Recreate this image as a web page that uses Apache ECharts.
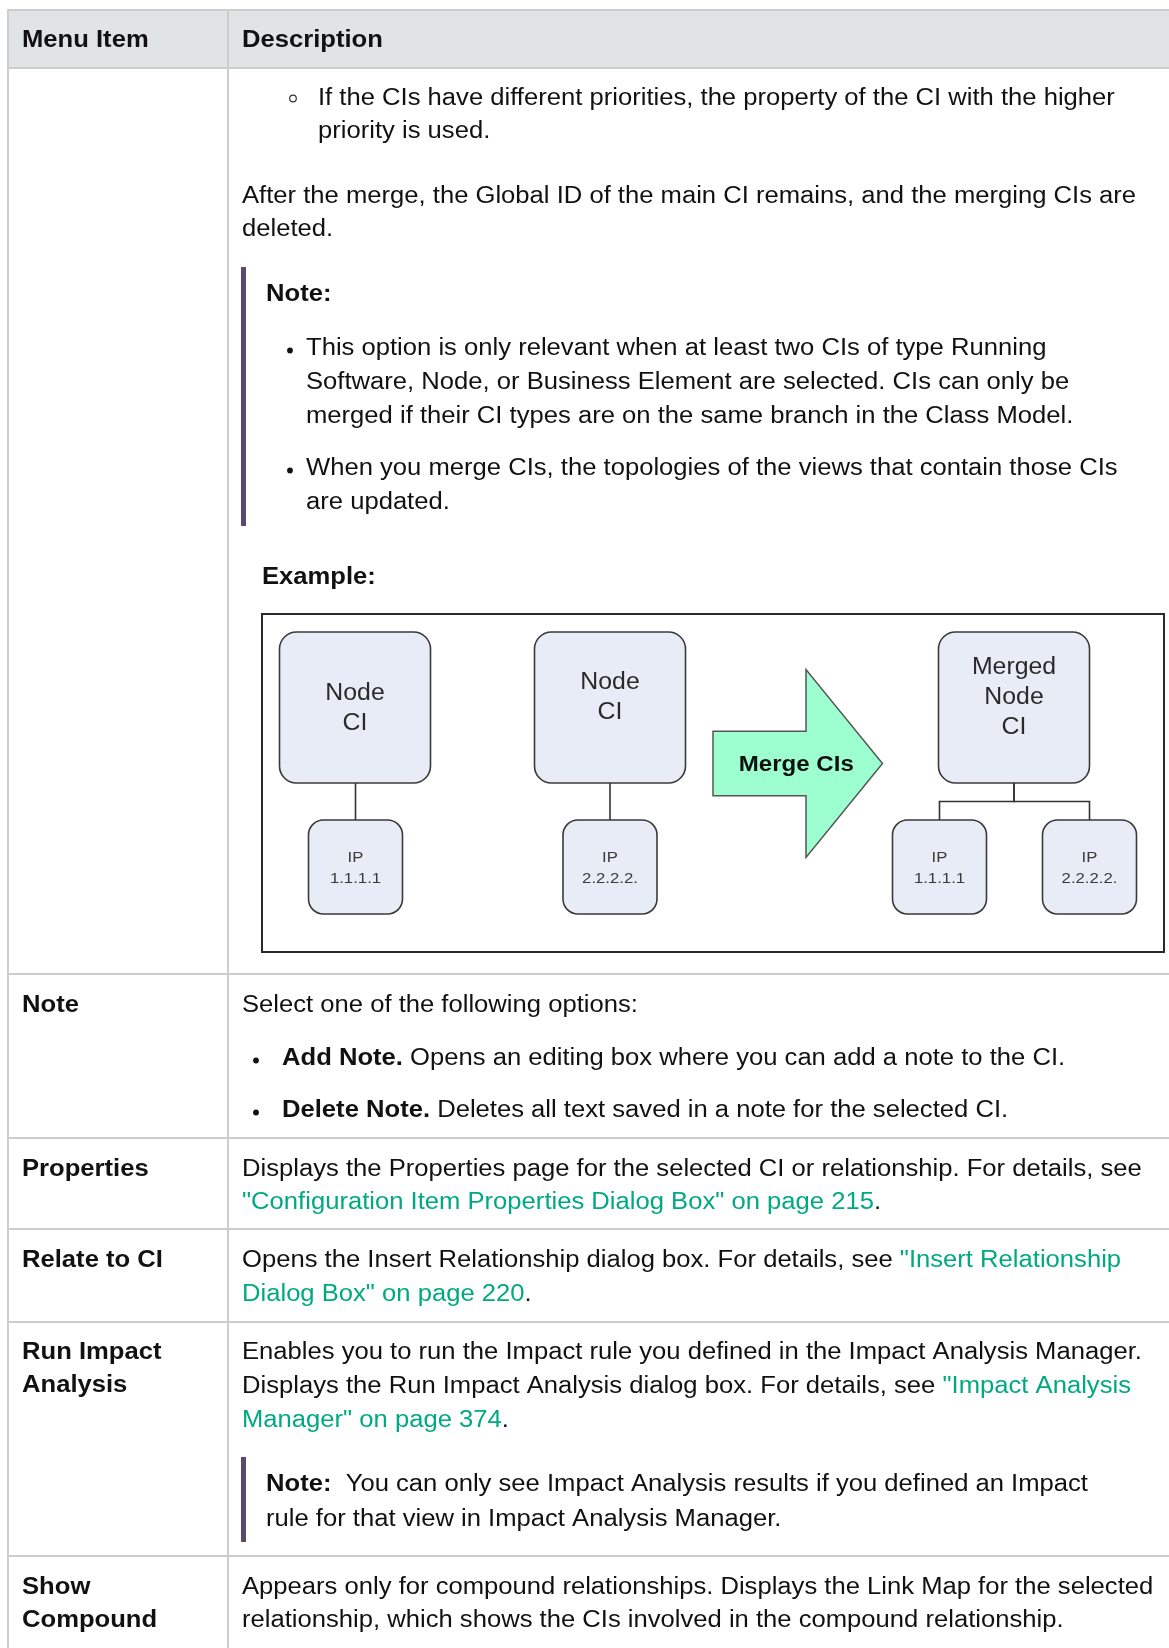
<!DOCTYPE html>
<html>
<head>
<meta charset="utf-8">
<script src="https://cdn.jsdelivr.net/npm/echarts@6/dist/echarts.min.js"></script>
<style>html,body{margin:0;padding:0;background:#fff}#c{width:1169px;height:1648px}</style>
</head>
<body>
<div id="c"></div>
<script>
// ---------- table content ----------
const headers = ['Menu Item', 'Description'];
const menuItems = [[], ['Note'], ['Properties'], ['Relate to CI'], ['Run Impact', 'Analysis'], ['Show', 'Compound']];
const mergeSubBullet = ['If the CIs have different priorities, the property of the CI with the higher', 'priority is used.'];
const mergeAfter = ['After the merge, the Global ID of the main CI remains, and the merging CIs are', 'deleted.'];
const mergeNoteTitle = 'Note:';
const mergeNoteBullets = [
  ['This option is only relevant when at least two CIs of type Running', 'Software, Node, or Business Element are selected. CIs can only be', 'merged if their CI types are on the same branch in the Class Model.'],
  ['When you merge CIs, the topologies of the views that contain those CIs', 'are updated.']
];
const exampleTitle = 'Example:';
const noteIntro = 'Select one of the following options:';
const noteBullets = [
  ['Add Note.', ' Opens an editing box where you can add a note to the CI.'],
  ['Delete Note.', ' Deletes all text saved in a note for the selected CI.']
];
const propertiesLines = ['Displays the Properties page for the selected CI or relationship. For details, see', '{l|"Configuration Item Properties Dialog Box" on page 215}.'];
const relateLines = ['Opens the Insert Relationship dialog box. For details, see {l|"Insert Relationship}', '{l|Dialog Box" on page 220}.'];
const impactLines = ['Enables you to run the Impact rule you defined in the Impact Analysis Manager.', 'Displays the Run Impact Analysis dialog box. For details, see {l|"Impact Analysis}', '{l|Manager" on page 374}.'];
const impactNote = ['{b|Note:}  You can only see Impact Analysis results if you defined an Impact', 'rule for that view in Impact Analysis Manager.'];
const compoundLines = ['Appears only for compound relationships. Displays the Link Map for the selected', 'relationship, which shows the CIs involved in the compound relationship.'];

// ---------- diagram content (diagram units) ----------
const nodeLabels = ['Node\nCI', 'IP\n1.1.1.1', 'Node\nCI', 'IP\n2.2.2.2.', 'Merged\nNode\nCI', 'IP\n1.1.1.1', 'IP\n2.2.2.2.'];
const nodeKinds = ['ci', 'ip', 'ci', 'ip', 'ci', 'ip', 'ip'];
const nodeX = [93, 93.5, 348, 348, 752, 677.5, 827.5];
const nodeY = [93.5, 253, 93.5, 253, 93.5, 253, 253];
const nodeLabelDy = [0, 0, -11, 0, -11, 0, 0];
const links = [[0, 1], [2, 3], [4, 5], [4, 6]];
const arrowLabel = 'Merge CIs';
const arrowGeom = [451, 544, 620.5, 149.5, 32.25, 94]; // tail x, neck x, tip x, mid y, shaft half-height, head half-height

// ---------- styling ----------
const FF = '"Liberation Sans", Arial, Helvetica, sans-serif';
const FS = 23.5, SX = 1.09, DY = 2.5;
const FONT = FS + 'px ' + FF, BFONT = 'bold ' + FS + 'px ' + FF;
const TXT = '#111', LINK = '#01a982', BORDER = '#cdcdcd', BAR = '#5c4a6e';
const RICH = { b: { font: BFONT, fill: TXT }, l: { fill: LINK } };

function T(x, y, text, bold) {
  return { type: 'text', x: x, y: y + DY, scaleX: SX, silent: true, z: 10,
    style: { x: 0, y: 0, text: text, font: bold ? BFONT : FONT, fill: TXT, align: 'left', verticalAlign: 'middle', rich: RICH } };
}
function L(x1, y1, x2, y2) {
  return { type: 'line', silent: true, z: 5, shape: { x1: x1, y1: y1, x2: x2, y2: y2 }, style: { stroke: BORDER, lineWidth: 2 } };
}
function dot(x, y) {
  return { type: 'circle', silent: true, z: 10, shape: { cx: x, cy: y, r: 2.9 }, style: { fill: TXT } };
}

const g = [];
// header background
g.push({ type: 'rect', silent: true, z: 1, shape: { x: 8, y: 10, width: 1161, height: 58 }, style: { fill: '#e1e4e5' } });
// row borders
const rowLines = [10, 68, 974, 1138, 1229, 1322, 1556];
rowLines.forEach(y => g.push(L(7, y, 1169, y)));
g.push(L(8, 9, 8, 1648));
g.push(L(228, 9, 228, 1648));

// headers
g.push(T(22, 38, headers[0], true));
g.push(T(242, 38, headers[1], true));

// menu items
const menuY = [null, [1003], [1167], [1258], [1350, 1383.5], [1585, 1618.5]];
menuItems.forEach((lines, i) => lines.forEach((t, j) => g.push(T(22, menuY[i][j], t, true))));

// row 1: merge description
g.push({ type: 'circle', silent: true, z: 10, shape: { cx: 293, cy: 98.5, r: 3.3 }, style: { fill: null, stroke: '#333', lineWidth: 1.2 } });
mergeSubBullet.forEach((t, j) => g.push(T(318, 96 + j * 33.5, t)));
mergeAfter.forEach((t, j) => g.push(T(242, 194 + j * 33, t)));
g.push({ type: 'rect', silent: true, z: 5, shape: { x: 241, y: 267, width: 5, height: 259 }, style: { fill: BAR } });
g.push(T(266, 292, mergeNoteTitle, true));
const nbY = [[346.5, 380.5, 414.5], [466.5, 500.5]];
mergeNoteBullets.forEach((lines, k) => {
  g.push(dot(290, nbY[k][0] + 4));
  lines.forEach((t, j) => g.push(T(306, nbY[k][j], t)));
});
g.push(T(262, 575, exampleTitle, true));

// Note row
g.push(T(242, 1003, noteIntro));
const noteBY = [1056.5, 1108.5];
noteBullets.forEach((b, k) => {
  g.push(dot(256, noteBY[k] + 4));
  g.push(T(282, noteBY[k], '{b|' + b[0] + '}' + b[1]));
});
// Properties
propertiesLines.forEach((t, j) => g.push(T(242, 1167 + j * 33.5, t)));
// Relate
relateLines.forEach((t, j) => g.push(T(242, 1258 + j * 34, t)));
// Run impact
impactLines.forEach((t, j) => g.push(T(242, 1350 + j * 34, t)));
g.push({ type: 'rect', silent: true, z: 5, shape: { x: 241, y: 1457, width: 5, height: 85 }, style: { fill: BAR } });
impactNote.forEach((t, j) => g.push(T(266, 1482.5 + j * 34.5, t)));
// Show compound
compoundLines.forEach((t, j) => g.push(T(242, 1585 + j * 33.5, t)));

// ---------- diagram series ----------
const NODE_FF = '"Liberation Sans", Arial, sans-serif';
const nodeData = nodeX.map((x, i) => [x, nodeY[i]]);

const option = {
  animation: false,
  backgroundColor: '#fff',
  grid: { left: 262, top: 614, width: 902, height: 338, show: true, borderColor: '#2a2a2a', borderWidth: 2, backgroundColor: '#fff' },
  xAxis: { type: 'value', min: 0, max: 902, show: false },
  yAxis: { type: 'value', min: 0, max: 338, inverse: true, show: false },
  graphic: { elements: g },
  series: [
    {
      type: 'custom', coordinateSystem: 'cartesian2d', silent: true, z: 2,
      data: links.map(l => [l[0], l[1]]),
      renderItem: function (params, api) {
        const p = api.value(0), c = api.value(1);
        const pTop = nodeY[p] + 151 / 2;
        const cTop = nodeY[c] - 94 / 2;
        let pts;
        if (Math.abs(nodeX[p] - nodeX[c]) < 1) {
          pts = [[nodeX[c], pTop], [nodeX[c], cTop]];
        } else {
          const mid = (pTop + cTop) / 2;
          pts = [[nodeX[p], pTop], [nodeX[p], mid], [nodeX[c], mid], [nodeX[c], cTop]];
        }
        return { type: 'polyline', shape: { points: pts.map(q => api.coord(q)) }, style: { stroke: '#333', lineWidth: 1.6, fill: null } };
      }
    },
    {
      type: 'custom', coordinateSystem: 'cartesian2d', silent: true, z: 3,
      data: nodeData,
      renderItem: function (params, api) {
        const i = params.dataIndex;
        const c = api.coord([api.value(0), api.value(1)]);
        const ci = nodeKinds[i] === 'ci';
        const sz = api.size(ci ? [151, 151] : [94, 94]);
        return {
          type: 'group',
          children: [
            { type: 'rect', shape: { x: c[0] - sz[0] / 2, y: c[1] - sz[1] / 2, width: sz[0], height: sz[1], r: ci ? 17 : 15 },
              style: { fill: '#e8ecf6', stroke: '#3a3a3a', lineWidth: 1.6 } },
            { type: 'text', x: c[0], y: c[1] + nodeLabelDy[i] + 1, scaleX: 1.08,
              style: { x: 0, y: 0, text: nodeLabels[i], fill: ci ? '#2a2a2a' : '#3a3a3a', font: (ci ? 23 : 15.5) + 'px ' + NODE_FF,
                lineHeight: ci ? 29.7 : 20.5, align: 'center', verticalAlign: 'middle' } }
          ]
        };
      }
    },
    {
      type: 'custom', coordinateSystem: 'cartesian2d', silent: true, z: 3,
      data: [arrowGeom],
      renderItem: function (params, api) {
        const a = [0, 1, 2, 3, 4, 5].map(k => api.value(k));
        const pts = [[a[0], a[3] - a[4]], [a[1], a[3] - a[4]], [a[1], a[3] - a[5]], [a[2], a[3]], [a[1], a[3] + a[5]], [a[1], a[3] + a[4]], [a[0], a[3] + a[4]]];
        const lc = api.coord([(a[0] + a[2]) / 2, a[3]]);
        return {
          type: 'group',
          children: [
            { type: 'polygon', shape: { points: pts.map(q => api.coord(q)) }, style: { fill: '#9dffcf', stroke: '#555', lineWidth: 1.5 } },
            { type: 'text', x: lc[0] - 1.5, y: lc[1] + 2, scaleX: 1.12,
              style: { x: 0, y: 0, text: arrowLabel, fill: '#111', font: 'bold 21.5px ' + NODE_FF, align: 'center', verticalAlign: 'middle' } }
          ]
        };
      }
    }
  ]
};

const chart = echarts.init(document.getElementById('c'), null, { renderer: 'canvas' });
chart.setOption(option);
</script>
</body>
</html>
